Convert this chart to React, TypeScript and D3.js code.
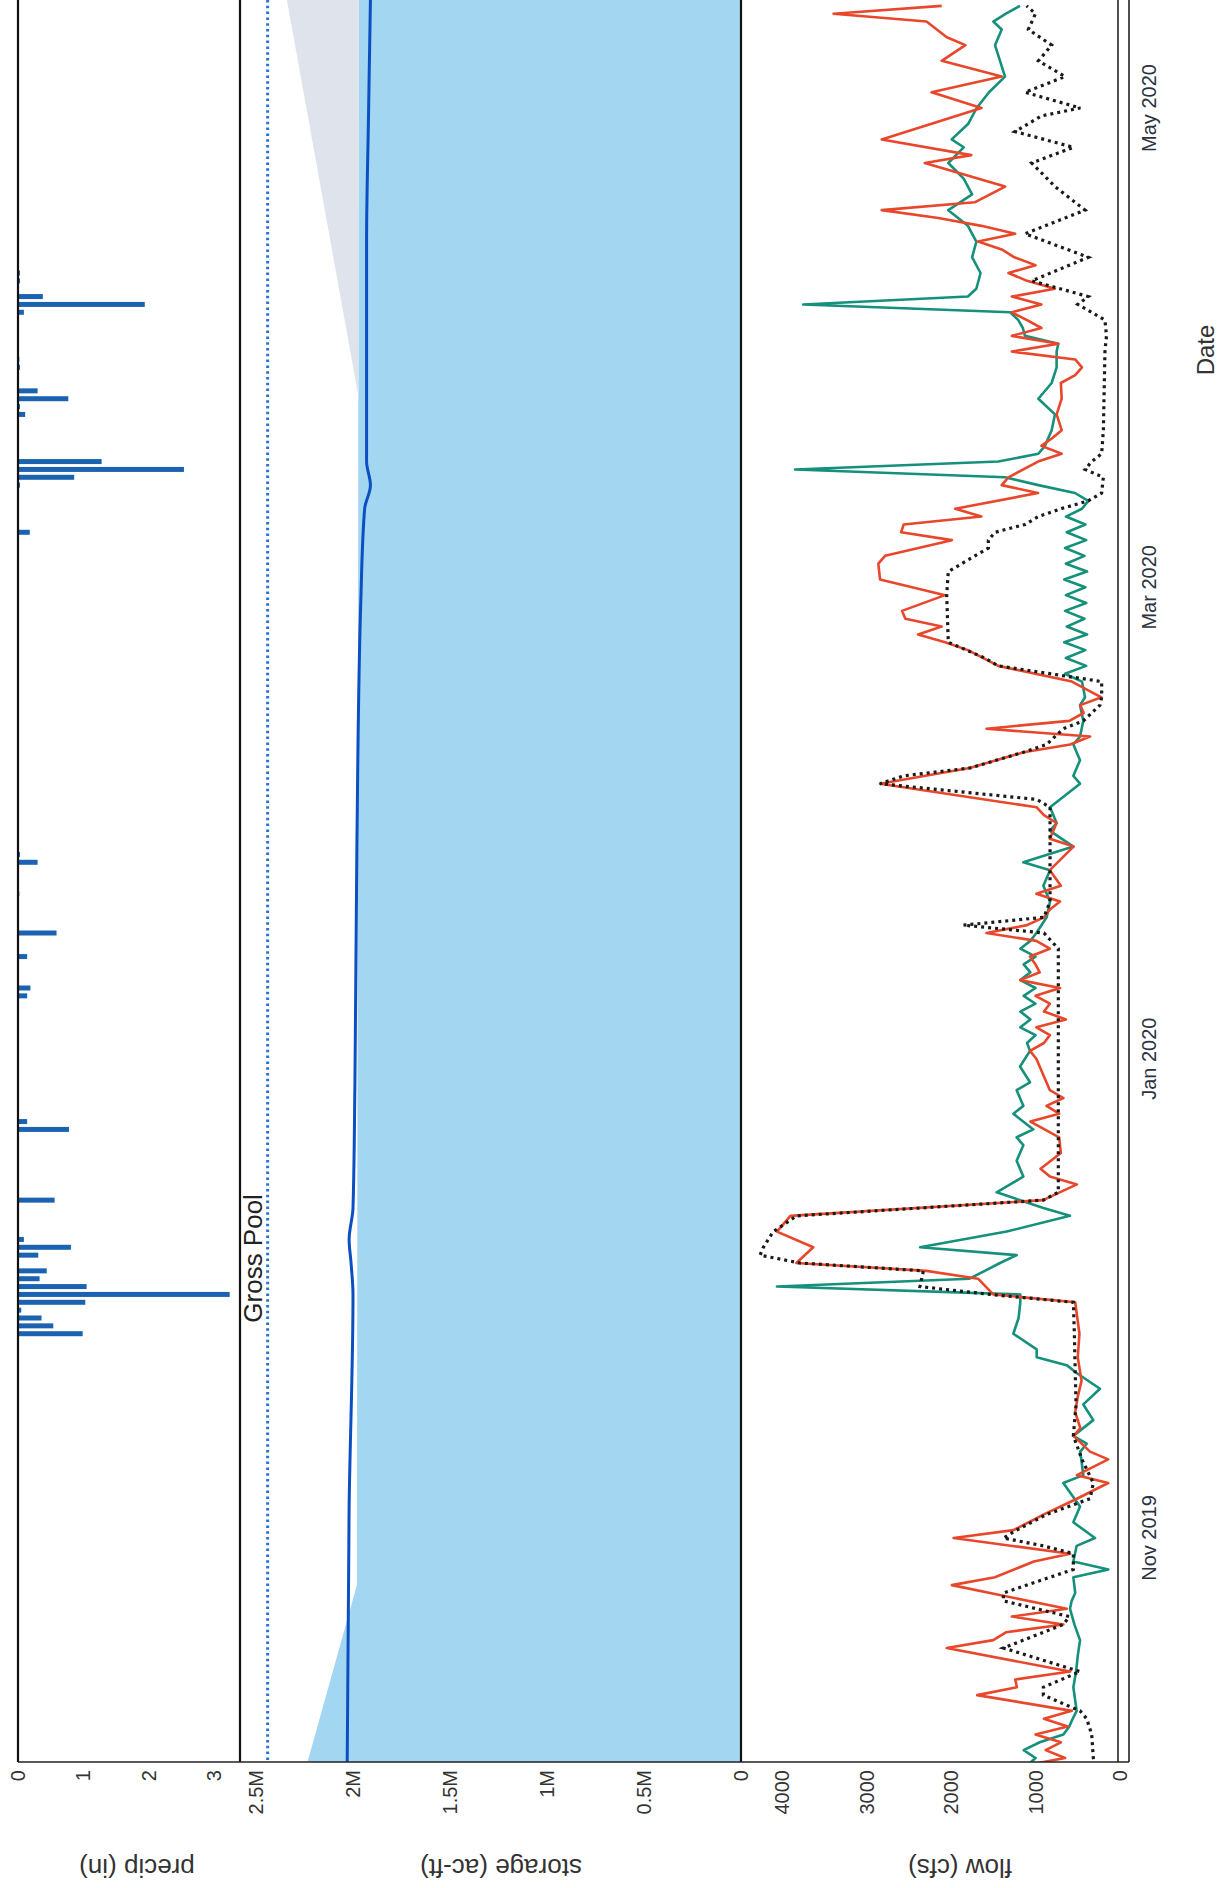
import React from "react";
import * as d3 from "d3";

// day index 0 = 2019-10-03
const START = Date.UTC(2019, 9, 3);
const DAY = 86400000;

const dateTicks = ["2019-11-01", "2020-01-01", "2020-03-01", "2020-05-01"];
const precipTicks = [0, 1, 2, 3];
const storageTicks = [0, 500000, 1000000, 1500000, 2000000, 2500000];
const flowTicks = [0, 1000, 2000, 3000, 4000];

const grossPool = 2440000;

// [day, inches]
const precip: [number, number][] = [
  [55, 0.99], [56, 0.54], [57, 0.36], [58, 0.05], [59, 1.03], [60, 3.24], [61, 1.05], [62, 0.33],
  [63, 0.44], [65, 0.31], [66, 0.81], [67, 0.09], [72, 0.56], [81, 0.78], [82, 0.14], [98, 0.14],
  [99, 0.19], [103, 0.14], [106, 0.59], [111, 0.02], [115, 0.3], [116, 0.03], [157, 0.18], [163, 0.03],
  [164, 0.86], [165, 2.54], [166, 1.28], [172, 0.11], [173, 0.03], [174, 0.77], [175, 0.3], [178, 0.03],
  [179, 0.02], [185, 0.09], [186, 1.94], [187, 0.38], [189, 0.03], [190, 0.03],
];

// [day, ac-ft]
const storage: [number, number][] = [
  [0, 2030000], [33, 2020000], [60, 2000000], [64, 2010000], [67, 2020000], [71, 2000000],
  [87, 1990000], [117, 1980000], [148, 1960000], [160, 1940000], [163, 1910000], [166, 1930000],
  [194, 1930000], [210, 1920000], [225, 1910000],
];

// top of conservation pool (blue fill)
const ruleCurve: [number, number][] = [[0, 2240000], [23, 1980000], [226, 1970000]];
// flood control band: [day, lower, upper]
const floodBand: [number, number, number][] = [[174, 1970000, 1970000], [226, 1970000, 2350000]];

// [day, cfs]
const inflow: [number, number][] = [
  [0, 1150], [1, 650], [2, 880], [3, 700], [4, 1000], [5, 620], [6, 900], [7, 570], [9, 1690], [10, 1220],
  [11, 1240], [12, 590], [15, 2050], [16, 1500], [17, 1350], [18, 670], [19, 1280], [20, 630], [23, 1990],
  [24, 1480], [26, 1020], [27, 590], [29, 1970], [30, 1260], [32, 900], [34, 510], [36, 140], [37, 510],
  [39, 140], [40, 355], [42, 550], [43, 470], [45, 530], [47, 500], [49, 455], [52, 500], [55, 480],
  [59, 530], [60, 1500], [62, 1680], [63, 2290], [64, 3830], [66, 3630], [68, 4060], [70, 3900], [72, 910],
  [74, 510], [75, 830], [76, 940], [78, 700], [80, 720], [82, 1060], [83, 720], [84, 870], [85, 670],
  [86, 830], [88, 910], [90, 990], [91, 1065], [92, 900], [93, 830], [94, 990], [95, 640], [96, 900],
  [97, 830], [98, 1000], [99, 710], [100, 1180], [101, 950], [102, 1000], [103, 1065], [104, 830],
  [105, 990], [106, 1580], [107, 1100], [108, 900], [109, 830], [110, 710], [111, 990], [112, 700],
  [114, 830], [117, 550], [118, 830], [120, 750], [121, 900], [122, 986], [125, 2840], [127, 1780],
  [129, 1140], [130, 590], [131, 355], [132, 1580], [133, 600], [134, 430], [135, 470], [136, 220],
  [138, 570], [140, 1440], [142, 1800], [143, 2070], [144, 2390], [145, 2110], [146, 2540], [147, 2580],
  [149, 2070], [151, 2840], [153, 2860], [154, 2780], [156, 1990], [157, 2590], [158, 2560], [159, 1640],
  [160, 1950], [162, 970], [163, 1400], [164, 1320], [166, 970], [167, 690], [168, 930], [169, 800],
  [170, 690], [172, 750], [174, 690], [176, 700], [177, 530], [178, 450], [179, 530], [180, 1280],
  [181, 730], [182, 1280], [183, 930], [184, 1100], [185, 1280], [186, 930], [187, 1280], [188, 770],
  [189, 1100], [190, 1320], [191, 1000], [192, 1250], [193, 1400], [194, 1680], [195, 1240], [196, 1640],
  [197, 2150], [198, 2820], [199, 1720], [201, 1360], [204, 2310], [205, 1760], [207, 2820], [211, 1640],
  [213, 2230], [215, 1400], [217, 2110], [219, 1830], [220, 2050], [222, 2290], [223, 3390], [224, 2110],
];

const outflow: [number, number][] = [
  [0, 1100], [1, 1000], [2, 1140], [3, 950], [4, 670], [5, 600], [6, 560], [7, 513], [10, 552], [12, 520],
  [14, 500], [16, 473], [18, 540], [20, 592], [21, 572], [22, 530], [24, 552], [25, 138], [26, 552],
  [28, 513], [29, 296], [31, 552], [33, 473], [36, 671], [37, 434], [40, 470], [41, 394], [42, 552],
  [44, 316], [46, 434], [48, 237], [50, 513], [51, 631], [52, 986], [53, 986], [55, 1262], [57, 1200],
  [59, 1180], [60, 1180], [61, 4060], [62, 1780], [63, 1600], [64, 1420], [65, 1223], [66, 2367],
  [68, 1341], [70, 592], [71, 907], [73, 1460], [75, 1144], [77, 1223], [79, 1144], [80, 1223], [81, 1026],
  [83, 1262], [84, 1144], [86, 1223], [87, 1065], [89, 1183], [91, 1065], [92, 1100], [93, 1000],
  [94, 1180], [95, 1060], [96, 1180], [97, 1000], [98, 1140], [99, 1000], [100, 1180], [101, 1060],
  [102, 1140], [103, 1000], [104, 1180], [105, 1060], [106, 990], [108, 868], [110, 828], [112, 907],
  [114, 828], [115, 1144], [117, 552], [119, 828], [120, 750], [122, 828], [125, 473], [126, 552],
  [128, 473], [130, 552], [131, 473], [133, 434], [135, 473], [136, 414], [138, 450], [139, 650],
  [140, 400], [141, 640], [142, 410], [143, 660], [144, 390], [145, 630], [146, 420], [147, 650],
  [148, 400], [149, 640], [150, 410], [151, 660], [152, 390], [153, 640], [154, 420], [155, 650],
  [156, 400], [157, 630], [158, 410], [159, 640], [160, 450], [161, 375], [162, 533], [163, 966],
  [164, 1360], [165, 3846], [166, 1440], [167, 966], [168, 888], [170, 809], [172, 770], [174, 966],
  [176, 809], [178, 750], [180, 750], [181, 730], [182, 1124], [183, 1150], [184, 1203], [185, 1300],
  [186, 3750], [187, 1800], [188, 1700], [190, 1650], [192, 1750], [194, 1700], [196, 1800], [198, 2032],
  [200, 1750], [202, 1850], [204, 2032], [206, 1850], [207, 1992], [209, 1795], [211, 1696], [213, 1550],
  [215, 1361], [217, 1420], [219, 1479], [221, 1400], [222, 1499], [223, 1350], [224, 1183],
];

const release: [number, number][] = [
  [0, 290], [1, 316], [4, 335], [6, 394], [7, 473], [9, 907], [10, 907], [12, 473], [15, 1380], [18, 670],
  [19, 600], [21, 1380], [22, 1380], [25, 552], [27, 552], [28, 907], [29, 1380], [30, 1223], [32, 868],
  [34, 355], [36, 316], [39, 450], [42, 552], [46, 520], [50, 530], [55, 540], [59, 552], [60, 1540],
  [61, 2367], [63, 2327], [64, 3787], [65, 4260], [66, 4221], [68, 4103], [70, 3826], [72, 907], [73, 730],
  [91, 730], [104, 730], [106, 900], [107, 1854], [108, 900], [110, 828], [122, 828], [123, 986],
  [125, 2840], [126, 2560], [127, 1775], [129, 1144], [130, 868], [132, 671], [133, 434], [135, 237],
  [136, 217], [138, 217], [140, 1440], [141, 1600], [143, 2032], [149, 2051], [152, 2032], [155, 1558],
  [156, 1558], [157, 1479], [158, 1124], [159, 966], [160, 700], [161, 375], [162, 217], [164, 197],
  [165, 414], [166, 335], [167, 217], [170, 197], [180, 178], [182, 160], [184, 178], [186, 500], [187, 375],
  [189, 1045], [192, 375], [195, 1124], [198, 414], [201, 769], [204, 1045], [206, 552], [208, 1243],
  [210, 927], [211, 470], [213, 1124], [215, 651], [217, 966], [219, 809], [221, 1085], [223, 1000],
  [224, 1105],
];

const W = 1225;
const H = 1888;
const plotBottom = 1762;
const font = "'Liberation Sans', Arial, sans-serif";

const dateY = d3.scaleUtc()
  .domain([new Date(Date.UTC(2019, 10, 1)), new Date(Date.UTC(2020, 4, 1))])
  .range([1538, 108]);
const dayY = (d: number) => dateY(new Date(START + d * DAY));

const precipX = d3.scaleLinear().domain([0, 3]).range([18, 214]);
const storageX = d3.scaleLinear().domain([0, 2500000]).range([741, 256]);
const flowX = d3.scaleLinear().domain([0, 4000]).range([1120, 782]);

const fmtStorage = (v: number) => (v === 0 ? "0" : `${v / 1e6}M`);
const fmtDate = d3.utcFormat("%b %Y");

export default function App() {
  const flowLine = d3.line<[number, number]>()
    .x(d => flowX(d[1]))
    .y(d => dayY(d[0]));
  const storageLine = d3.line<[number, number]>()
    .x(d => storageX(d[1]))
    .y(d => dayY(d[0]))
    .curve(d3.curveMonotoneY);
  const poolArea = d3.area<[number, number]>()
    .y(d => dayY(d[0]))
    .x0(storageX(0))
    .x1(d => storageX(d[1]));
  const bandArea = d3.area<[number, number, number]>()
    .y(d => dayY(d[0]))
    .x0(d => storageX(d[1]))
    .x1(d => storageX(d[2]));

  const tickEnd = plotBottom + 8;
  const titleY = 1868;

  return (
    <svg width={W} height={H} style={{ position: "absolute", left: 0, top: 0, background: "#fff" }} fontFamily={font}>
      <defs>
        <clipPath id="plot">
          <rect x={0} y={0} width={W} height={plotBottom} />
        </clipPath>
      </defs>
      <rect width={W} height={H} fill="#fff" />

      <g clipPath="url(#plot)">
        {/* storage panel */}
        <path d={poolArea(ruleCurve) || ""} fill="#a3d6f0" />
        <path d={bandArea(floodBand) || ""} fill="#dfe4ec" />
        <line x1={storageX(grossPool)} x2={storageX(grossPool)} y1={0} y2={plotBottom}
          stroke="#2574d4" strokeWidth={3} strokeDasharray="2.5 3.3" />
        <path d={storageLine(storage) || ""} fill="none" stroke="#0b4fc2" strokeWidth={3} />

        {/* precip bars */}
        {precip.map(([d, v]) => (
          <rect key={d} x={precipX(0)} y={dayY(d) - 2.5} width={precipX(v) - precipX(0)} height={5} fill="#1b62b0" />
        ))}

        {/* flow lines */}
        <path d={flowLine(outflow) || ""} fill="none" stroke="#15907a" strokeWidth={2.6} strokeLinejoin="round" />
        <path d={flowLine(inflow) || ""} fill="none" stroke="#e8472b" strokeWidth={2.6} strokeLinejoin="round" />
        <path d={flowLine(release) || ""} fill="none" stroke="#1a1a1a" strokeWidth={3.2} strokeDasharray="3 4" />
      </g>

      {/* panel frame lines */}
      {[precipX(0), 240, storageX(0)].map(x => (
        <line key={x} x1={x} x2={x} y1={0} y2={plotBottom} stroke="#111" strokeWidth={2.2} />
      ))}
      <line x1={1118} x2={1118} y1={0} y2={plotBottom} stroke="#222" strokeWidth={1.6} />
      <line x1={1129} x2={1129} y1={0} y2={plotBottom} stroke="#222" strokeWidth={1.6} />
      <line x1={precipX(0)} x2={1129} y1={plotBottom} y2={plotBottom} stroke="#222" strokeWidth={1.6} />

      <text transform={`translate(${storageX(grossPool) - 6},${dayY(56.4)}) rotate(-90)`}
        fontSize={26} fill="#222">Gross Pool</text>

      {/* value tick labels (rotated) */}
      {precipTicks.map(v => (
        <text key={"p" + v} transform={`translate(${precipX(v)},${tickEnd}) rotate(-90)`} textAnchor="end"
          dy="0.35em" fontSize={20} fill="#333">{v}</text>
      ))}
      {storageTicks.map(v => (
        <text key={"s" + v} transform={`translate(${storageX(v)},${tickEnd}) rotate(-90)`} textAnchor="end"
          dy="0.35em" fontSize={20} fill="#333">{fmtStorage(v)}</text>
      ))}
      {flowTicks.map(v => (
        <text key={"f" + v} transform={`translate(${flowX(v)},${tickEnd}) rotate(-90)`} textAnchor="end"
          dy="0.35em" fontSize={20} fill="#333">{v}</text>
      ))}

      {/* axis titles (upside down) */}
      <text transform={`translate(137,${titleY}) rotate(180)`} textAnchor="middle" dy="0.35em" fontSize={26} fill="#333">precip (in)</text>
      <text transform={`translate(501,${titleY}) rotate(180)`} textAnchor="middle" dy="0.35em" fontSize={26} fill="#333">storage (ac-ft)</text>
      <text transform={`translate(960,${titleY}) rotate(180)`} textAnchor="middle" dy="0.35em" fontSize={26} fill="#333">flow (cfs)</text>

      {/* date ticks */}
      {dateTicks.map(s => {
        const dt = new Date(s + "T00:00:00Z");
        return (
          <text key={s} transform={`translate(1149,${dateY(dt)}) rotate(-90)`} textAnchor="middle"
            dy="0.35em" fontSize={20} fill="#2b3240">{fmtDate(dt)}</text>
        );
      })}
      <text transform={`translate(1206,350) rotate(-90)`} textAnchor="middle" dy="0.35em" fontSize={24} fill="#333">Date</text>
    </svg>
  );
}
